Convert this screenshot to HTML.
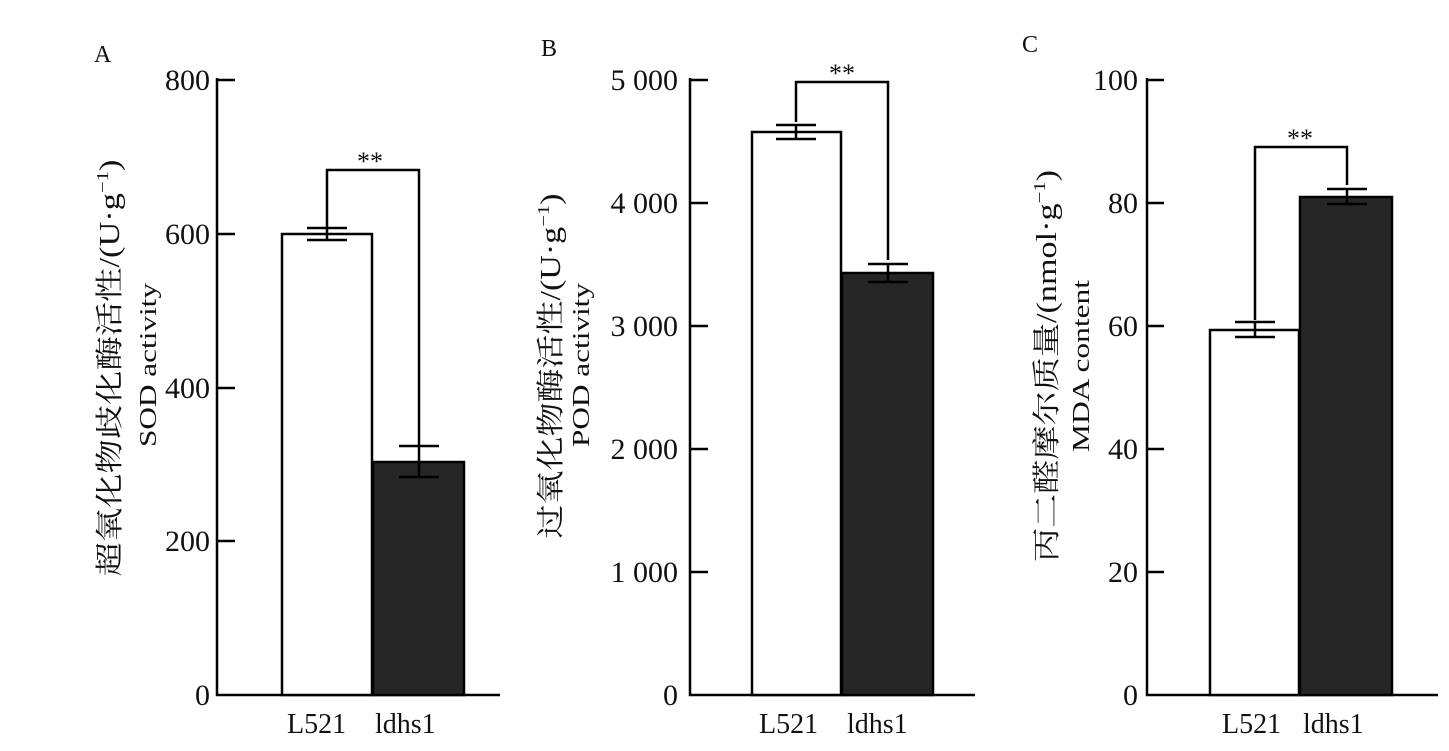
<!DOCTYPE html>
<html><head><meta charset="utf-8"><style>
body{margin:0;background:#fff;}
svg{display:block;font-family:"Liberation Serif","Noto Serif CJK SC",serif;}
</style></head><body>
<svg width="1449" height="751" viewBox="0 0 1449 751" xmlns="http://www.w3.org/2000/svg">
<rect width="1449" height="751" fill="#fff"/>
<g stroke="#000" stroke-width="2.5" fill="none">
<path d="M217 78 V695 H500"/>
<path d="M217 80H235M217 234H235M217 388H235M217 541H235"/>
<rect x="282" y="234" width="90" height="461" fill="#fff"/>
<rect x="373" y="462" width="91" height="233" fill="#262626"/>
<path d="M307 228H347M327 228V240M307 240H347"/>
<path d="M399 446H439M419 446V477M399 477H439"/>
<path d="M327 227V170H419V445"/>
<path d="M690 78V695H975"/>
<path d="M690 80H708M690 203H708M690 326H708M690 449H708M690 572H708"/>
<rect x="752" y="132" width="89" height="563" fill="#fff"/>
<rect x="842" y="273" width="91" height="422" fill="#262626"/>
<path d="M776 125H816M796 125V139M776 139H816"/>
<path d="M868 264H908M888 264V282M868 282H908"/>
<path d="M796 122V82H888V260"/>
<path d="M1147 78V695H1438"/>
<path d="M1147 80H1164M1147 203H1164M1147 326H1164M1147 449H1164M1147 572H1164"/>
<rect x="1210" y="330" width="89" height="365" fill="#fff"/>
<rect x="1300" y="197" width="92" height="498" fill="#262626"/>
<path d="M1235 322H1275M1255 322V337M1235 337H1275"/>
<path d="M1327 189H1367M1347 189V204M1327 204H1367"/>
<path d="M1255 320V147H1347V185"/>
</g>
<g font-size="30" fill="#111" text-anchor="end">
<text x="210" y="90">800</text><text x="210" y="244">600</text><text x="210" y="398">400</text><text x="210" y="551">200</text><text x="210" y="705">0</text>
<text x="678" y="90">5 000</text><text x="678" y="213">4 000</text><text x="678" y="336">3 000</text><text x="678" y="459">2 000</text><text x="678" y="582">1 000</text><text x="678" y="705">0</text>
<text x="1138" y="90">100</text><text x="1138" y="213">80</text><text x="1138" y="336">60</text><text x="1138" y="459">40</text><text x="1138" y="582">20</text><text x="1138" y="705">0</text>
</g>
<g font-size="28" fill="#111">
<text x="94" y="62" font-size="24">A</text><text x="541" y="56" font-size="24">B</text><text x="1022" y="52" font-size="24">C</text>
<text x="287" y="733">L521</text><text x="375" y="733">ldhs1</text>
<text x="759" y="733">L521</text><text x="847" y="733">ldhs1</text>
<text x="1222" y="733">L521</text><text x="1303" y="733">ldhs1</text>
<text x="357" y="170" font-size="26">**</text><text x="829" y="82" font-size="26">**</text><text x="1287" y="147" font-size="26">**</text>
</g>
<g font-size="28" fill="#111" text-anchor="middle">
<text transform="translate(119,368) rotate(-90)" textLength="417" lengthAdjust="spacingAndGlyphs">超氧化物歧化酶活性/(U·g<tspan font-size="17" dy="-11">−1</tspan><tspan dy="11">)</tspan></text>
<text transform="translate(156,365) rotate(-90)" font-size="24" textLength="164" lengthAdjust="spacingAndGlyphs">SOD activity</text>
<text transform="translate(560,366) rotate(-90)" textLength="345" lengthAdjust="spacingAndGlyphs">过氧化物酶活性/(U·g<tspan font-size="17" dy="-11">−1</tspan><tspan dy="11">)</tspan></text>
<text transform="translate(589,365) rotate(-90)" font-size="24" textLength="164" lengthAdjust="spacingAndGlyphs">POD activity</text>
<text transform="translate(1056,366) rotate(-90)" textLength="392" lengthAdjust="spacingAndGlyphs">丙二醛摩尔质量/(nmol·g<tspan font-size="17" dy="-11">−1</tspan><tspan dy="11">)</tspan></text>
<text transform="translate(1089,366) rotate(-90)" font-size="24" textLength="172" lengthAdjust="spacingAndGlyphs">MDA content</text>
</g>
</svg>
</body></html>
